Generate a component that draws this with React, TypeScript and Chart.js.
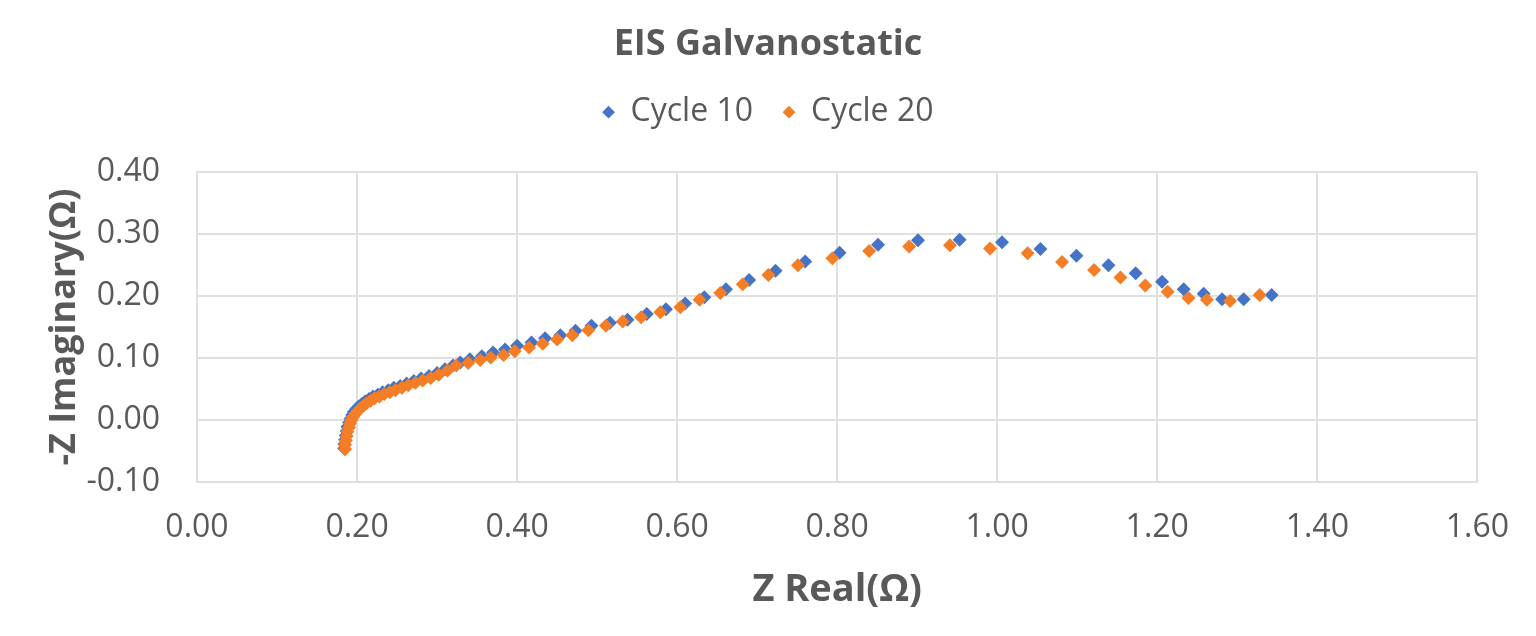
import React, { useEffect, useRef } from 'react';
import { Chart, registerables, layouts } from 'chart.js';

Chart.register(...registerables);

const TITLE = 'EIS Galvanostatic';
const SERIES_NAMES = ['Cycle 10', 'Cycle 20'];
const SERIES_COLORS = ['#4574C6', '#F47D26'];
const X_TITLE = 'Z Real(Ω)';
const Y_TITLE = '-Z Imaginary(Ω)';
const X_TICKS = ['0.00', '0.20', '0.40', '0.60', '0.80', '1.00', '1.20', '1.40', '1.60'];
const Y_TICKS = ['-0.10', '0.00', '0.10', '0.20', '0.30', '0.40'];

// Cycle 10 (blue)
const cycle10Real = [
  0.184, 0.184, 0.185, 0.186, 0.187, 0.188, 0.190, 0.192, 0.194, 0.196,
  0.199, 0.202, 0.206, 0.210, 0.215, 0.220, 0.226, 0.232, 0.239, 0.246,
  0.254, 0.262, 0.271, 0.280, 0.290, 0.300, 0.310, 0.320, 0.329, 0.341,
  0.356, 0.370, 0.385, 0.400, 0.418, 0.435, 0.454, 0.473, 0.493, 0.516,
  0.538, 0.562, 0.586, 0.610, 0.634, 0.661, 0.690, 0.723, 0.760, 0.803,
  0.851, 0.901, 0.953, 1.006, 1.054, 1.099, 1.139, 1.173, 1.206, 1.233,
  1.258, 1.281, 1.308, 1.343,
];
const cycle10Imag = [
  -0.046, -0.039, -0.032, -0.025, -0.018, -0.011, -0.004, 0.002, 0.008, 0.013,
  0.018, 0.022, 0.026, 0.030, 0.034, 0.038, 0.041, 0.045, 0.048, 0.052,
  0.055, 0.059, 0.063, 0.067, 0.071, 0.076, 0.082, 0.088, 0.093, 0.098,
  0.103, 0.109, 0.114, 0.120, 0.125, 0.132, 0.137, 0.144, 0.152, 0.157,
  0.162, 0.171, 0.179, 0.188, 0.198, 0.211, 0.226, 0.241, 0.256, 0.270,
  0.283, 0.290, 0.291, 0.287, 0.276, 0.265, 0.250, 0.237, 0.223, 0.211,
  0.204, 0.195, 0.195, 0.202,
];

// Cycle 20 (orange)
const cycle20Real = [
  0.185, 0.185, 0.186, 0.187, 0.188, 0.190, 0.191, 0.193, 0.195, 0.198,
  0.201, 0.204, 0.208, 0.212, 0.217, 0.222, 0.228, 0.234, 0.241, 0.248,
  0.256, 0.264, 0.273, 0.282, 0.292, 0.302, 0.313, 0.324, 0.339, 0.354,
  0.367, 0.383, 0.397, 0.415, 0.432, 0.450, 0.469, 0.489, 0.511, 0.532,
  0.555, 0.579, 0.604, 0.628, 0.654, 0.682, 0.714, 0.751, 0.794, 0.840,
  0.890, 0.941, 0.991, 1.038, 1.081, 1.121, 1.154, 1.185, 1.213, 1.239,
  1.262, 1.291, 1.328,
];
const cycle20Imag = [
  -0.047, -0.040, -0.033, -0.026, -0.019, -0.012, -0.006, 0.000, 0.005, 0.010,
  0.015, 0.019, 0.023, 0.027, 0.031, 0.035, 0.038, 0.042, 0.045, 0.048,
  0.052, 0.056, 0.060, 0.064, 0.068, 0.073, 0.080, 0.088, 0.092, 0.097,
  0.101, 0.105, 0.111, 0.117, 0.123, 0.130, 0.137, 0.145, 0.152, 0.159,
  0.166, 0.174, 0.182, 0.194, 0.205, 0.219, 0.234, 0.250, 0.261, 0.273,
  0.280, 0.282, 0.277, 0.269, 0.255, 0.242, 0.230, 0.217, 0.207, 0.197,
  0.194, 0.192, 0.202,
];

const FONT = "'Open Sans', 'Noto Sans', sans-serif";
const TEXT_COLOR = '#595959';
const GRID_COLOR = '#e0e0e0';
const TOP_SPACER = 34;
const RIGHT_SPACER = 58;

const makeBox = (position: string, horizontal: boolean, fullSize: boolean, size: number) => {
  const box: any = {
    position,
    weight: 500,
    fullSize,
    options: {},
    left: 0, top: 0, right: 0, bottom: 0, width: 0, height: 0,
    isHorizontal: () => horizontal,
    update(maxWidth: number, maxHeight: number) {
      if (horizontal) {
        box.width = maxWidth;
        box.height = size;
      } else {
        box.width = size;
        box.height = maxHeight;
      }
    },
    draw() {},
  };
  return box;
};

const spacerPlugin = {
  id: 'layoutSpacers',
  beforeInit(chart: any) {
    layouts.addBox(chart, makeBox('top', true, true, TOP_SPACER));
    layouts.addBox(chart, makeBox('right', false, false, RIGHT_SPACER));
  },
};

const toPoints = (xs: number[], ys: number[]) => xs.map((x, i) => ({ x, y: ys[i] }));

export default function App() {
  const canvasRef = useRef<HTMLCanvasElement | null>(null);

  useEffect(() => {
    if (!canvasRef.current) return;
    const chart = new Chart(canvasRef.current, {
      type: 'scatter',
      data: {
        datasets: [
          {
            label: SERIES_NAMES[0],
            data: toPoints(cycle10Real, cycle10Imag),
            backgroundColor: SERIES_COLORS[0],
            borderColor: SERIES_COLORS[0],
            pointStyle: 'rectRot',
            pointRadius: 7,
            pointBorderWidth: 0,
            order: 1,
          },
          {
            label: SERIES_NAMES[1],
            data: toPoints(cycle20Real, cycle20Imag),
            backgroundColor: SERIES_COLORS[1],
            borderColor: SERIES_COLORS[1],
            pointStyle: 'rectRot',
            pointRadius: 7,
            pointBorderWidth: 0,
            order: 0,
          },
        ],
      },
      options: {
        animation: false,
        responsive: false,
        events: [],
        layout: { padding: 0 },
        plugins: {
          title: {
            display: true,
            text: TITLE,
            color: TEXT_COLOR,
            font: { family: FONT, size: 36, weight: 'bold' },
            padding: { top: 23, bottom: 0 },
          },
          legend: {
            display: true,
            position: 'top',
            labels: {
              usePointStyle: true,
              boxWidth: 12,
              boxHeight: 9,
              color: TEXT_COLOR,
              font: { family: FONT, size: 32 },
              padding: 30,
              sort: (a: any, b: any) => a.datasetIndex - b.datasetIndex,
            },
          },
          tooltip: { enabled: false },
        },
        scales: {
          x: {
            type: 'linear',
            min: 0,
            max: 1.6,
            ticks: {
              stepSize: 0.2,
              autoSkip: false,
              maxRotation: 0,
              color: TEXT_COLOR,
              font: { family: FONT, size: 32 },
              padding: 27,
              callback: (_v: any, i: number) => X_TICKS[i],
            },
            grid: { color: GRID_COLOR, lineWidth: 2, drawTicks: false },
            border: { color: GRID_COLOR, width: 2 },
            title: {
              display: true,
              text: X_TITLE,
              color: TEXT_COLOR,
              font: { family: FONT, size: 38, weight: 'bold' },
              padding: { top: 0, bottom: 23 },
            },
            afterFit: (scale: any) => {
              scale.height = 154;
            },
          },
          y: {
            type: 'linear',
            min: -0.1,
            max: 0.4,
            ticks: {
              stepSize: 0.1,
              autoSkip: false,
              color: TEXT_COLOR,
              font: { family: FONT, size: 32 },
              padding: 37,
              callback: (_v: any, i: number) => Y_TICKS[i],
            },
            grid: { color: GRID_COLOR, lineWidth: 2, drawTicks: false },
            border: { color: GRID_COLOR, width: 2 },
            title: {
              display: true,
              text: Y_TITLE,
              color: TEXT_COLOR,
              font: { family: FONT, size: 36, weight: 'bold' },
              padding: { top: 43, bottom: 0 },
            },
            afterFit: (scale: any) => {
              scale.width = 197;
            },
          },
        },
      },
      plugins: [spacerPlugin],
    } as any);
    return () => chart.destroy();
  }, []);

  return (
    <div style={{ position: 'absolute', left: 0, top: 0, width: 1536, height: 636, background: '#ffffff' }}>
      <canvas ref={canvasRef} width={1536} height={636} style={{ display: 'block' }} />
    </div>
  );
}
